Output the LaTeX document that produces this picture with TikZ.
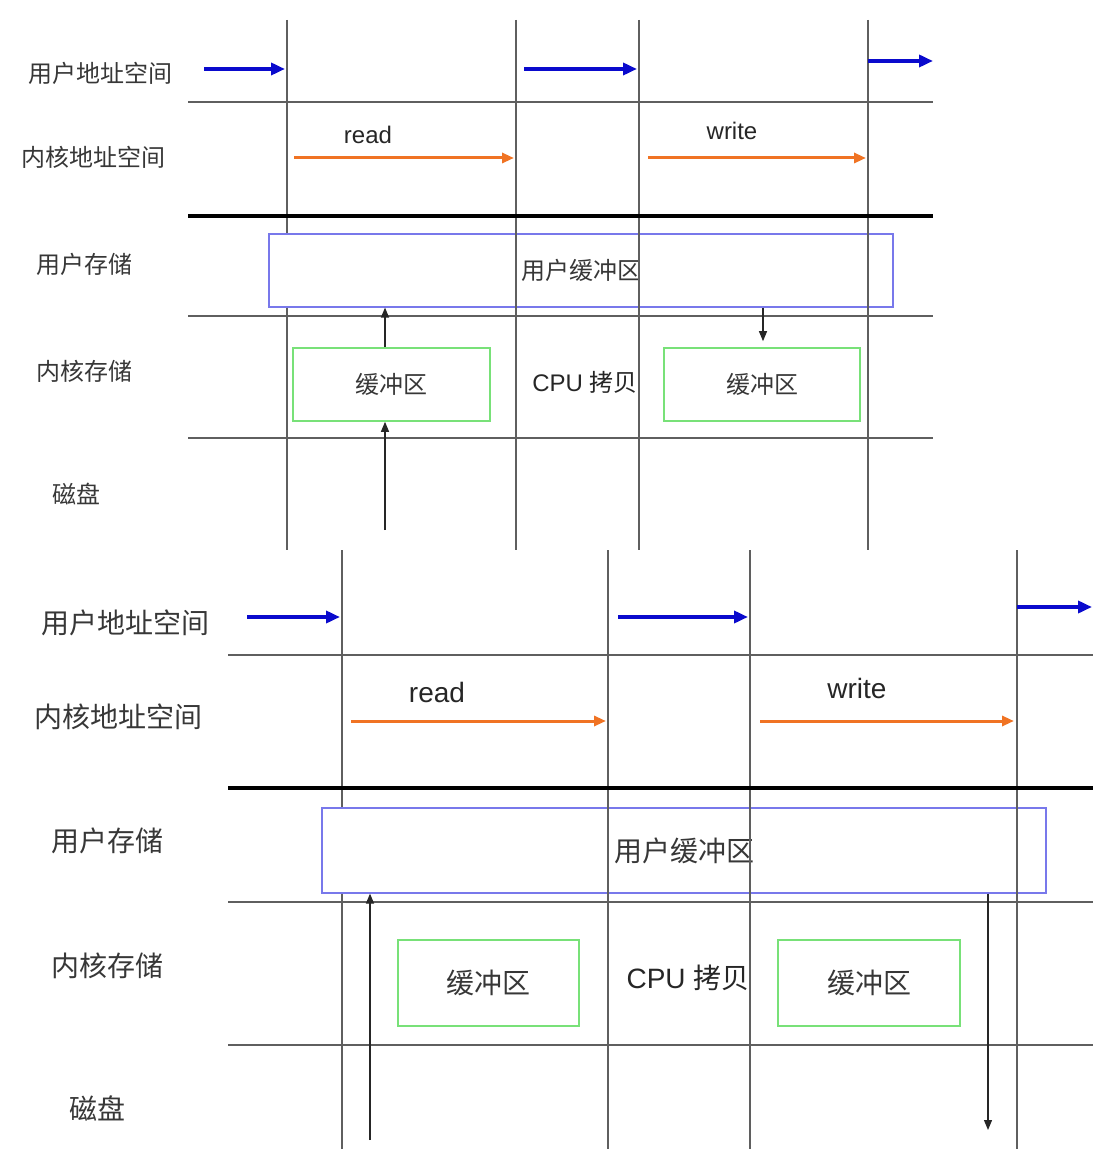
\documentclass[tikz,border=0pt]{standalone}
\usepackage{fontspec}
\setmainfont{Liberation Sans}
\newfontfamily\cjk{Noto Sans CJK SC}
\usepackage{xcolor}
\definecolor{callblue}{RGB}{10,10,205}
\definecolor{sysorange}{RGB}{240,115,35}
\definecolor{ubufblue}{RGB}{120,120,235}
\definecolor{kbufgreen}{RGB}{120,225,120}
\definecolor{gridgray}{RGB}{95,95,95}
\definecolor{labelgray}{RGB}{55,55,55}
\usetikzlibrary{arrows.meta, positioning}
\tikzstyle{grid}=[draw=gridgray, line width=0.75pt]
\tikzstyle{kernelline}=[draw=black, line width=2pt]
\tikzstyle{userbuf}=[rectangle, draw=ubufblue, line width=0.6pt, inner sep=0pt, text=labelgray]
\tikzstyle{kernbuf}=[rectangle, draw=kbufgreen, line width=0.8pt, inner sep=0pt, text=labelgray]
\tikzstyle{rowlabel}=[inner sep=0pt, text=labelgray]
\tikzstyle{calllabel}=[inner sep=0pt, text=black!85]
\tikzstyle{userarrow}=[-{Triangle[length=7pt,width=6pt]}, line width=2pt, color=callblue]
\tikzstyle{sysarrow}=[-{Triangle[length=6pt,width=5pt]}, line width=1.5pt, color=sysorange]
\tikzstyle{copyarrow}=[-{Triangle[length=5pt,width=4pt]}, line width=0.6pt, color=black!85]

\begin{document}
\begin{tikzpicture}[x=0.5pt, y=-0.5pt]
  \useasboundingbox (0,0) rectangle (1103,1149);

  % ---- upper panel: buffered read / write ----
  \begin{scope}[font=\fontsize{12}{14}\selectfont]
  \node[rowlabel] (uaddr1) at (100,73) {\cjk 用户地址空间};
  \node[rowlabel] (kaddr1) at (93,157) {\cjk 内核地址空间};
  \node[rowlabel] (ustore1) at (84,264) {\cjk 用户存储};
  \node[rowlabel] (kstore1) at (84,371) {\cjk 内核存储};
  \node[rowlabel] (disk1) at (76,494) {\cjk 磁盘};

  \node[userbuf, minimum width=312pt, minimum height=36.5pt] (ubuf1) at (581,270.5) {\cjk 用户缓冲区};
  \node[kernbuf, minimum width=98.5pt, minimum height=36.5pt] (kbufr1) at (391.5,384.5) {\raisebox{-2pt}{\cjk 缓冲区}};
  \node[kernbuf, minimum width=98pt, minimum height=36.5pt] (kbufw1) at (762,384.5) {\raisebox{-2pt}{\cjk 缓冲区}};
  \node[rowlabel, text=black!85] (cpu1) at (585,382) {CPU {\cjk 拷贝}};
  \node[calllabel] (read1) at (368,135) {read};
  \node[calllabel] (write1) at (732,131) {write};
  \end{scope}

  \draw[grid] (287,20) -- (ubuf1.north -| 287,0);
  \draw[grid] (ubuf1.south -| 287,0) -- (287,550);
  \draw[grid] (516,20) -- (516,550);
  \draw[grid] (639,20) -- (639,550);
  \draw[grid] (868,20) -- (868,550);
  \draw[grid] (188,102) -- (933,102);
  \draw[kernelline] (188,216) -- (933,216);
  \draw[grid] (188,316) -- (933,316);
  \draw[grid] (188,438) -- (933,438);

  \coordinate (ua1a) at (204,69);  \coordinate (ua1b) at (285,69);
  \coordinate (ua1c) at (524,69);  \coordinate (ua1d) at (637,69);
  \coordinate (ua1e) at (868,61);  \coordinate (ua1f) at (933,61);
  \coordinate (ka1a) at (294,158); \coordinate (ka1b) at (514,158);
  \coordinate (ka1c) at (648,158); \coordinate (ka1d) at (866,158);
  \draw[userarrow] (ua1a) -- (ua1b);
  \draw[userarrow] (ua1c) -- (ua1d);
  \draw[userarrow] (ua1e) -- (ua1f);
  \draw[sysarrow] (ka1a) -- (ka1b);
  \draw[sysarrow] (ka1c) -- (ka1d);

  \coordinate (dma1) at (385,530);
  \coordinate (wcp1) at (763,307);
  \draw[copyarrow] (dma1) -- (kbufr1.south -| dma1);
  \draw[copyarrow] (kbufr1.north -| dma1) -- (ubuf1.south -| dma1);
  \draw[copyarrow, shorten >=3pt] (ubuf1.south -| wcp1) -- (kbufw1.north -| wcp1);

  % ---- lower panel: direct read / write ----
  \begin{scope}[font=\fontsize{14}{16}\selectfont]
  \node[rowlabel] (uaddr2) at (125,623) {\cjk 用户地址空间};
  \node[rowlabel] (kaddr2) at (118,717) {\cjk 内核地址空间};
  \node[rowlabel] (ustore2) at (107,841) {\cjk 用户存储};
  \node[rowlabel] (kstore2) at (107,966) {\cjk 内核存储};
  \node[rowlabel] (disk2) at (97,1108) {\cjk 磁盘};

  \node[userbuf, minimum width=362pt, minimum height=42.5pt] (ubuf2) at (684,850.5) {\cjk 用户缓冲区};
  \node[kernbuf, minimum width=90.5pt, minimum height=43pt] (kbufr2) at (488.5,983) {\raisebox{-2pt}{\cjk 缓冲区}};
  \node[kernbuf, minimum width=91pt, minimum height=43pt] (kbufw2) at (869,983) {\raisebox{-2pt}{\cjk 缓冲区}};
  \node[rowlabel, text=black!85] (cpu2) at (688,978) {CPU {\cjk 拷贝}};
  \node[calllabel] (read2) at (437,692) {read};
  \node[calllabel] (write2) at (857,688) {write};
  \end{scope}

  \draw[grid] (342,550) -- (ubuf2.north -| 342,0);
  \draw[grid] (ubuf2.south -| 342,0) -- (342,1149);
  \draw[grid] (608,550) -- (608,1149);
  \draw[grid] (750,550) -- (750,1149);
  \draw[grid] (1017,550) -- (1017,1149);
  \draw[grid] (228,655) -- (1093,655);
  \draw[kernelline] (228,788) -- (1093,788);
  \draw[grid] (228,902) -- (1093,902);
  \draw[grid] (228,1045) -- (1093,1045);

  \coordinate (ua2a) at (247,617);  \coordinate (ua2b) at (340,617);
  \coordinate (ua2c) at (618,617);  \coordinate (ua2d) at (748,617);
  \coordinate (ua2e) at (1017,607); \coordinate (ua2f) at (1092,607);
  \coordinate (ka2a) at (351,721);  \coordinate (ka2b) at (606,721);
  \coordinate (ka2c) at (760,721);  \coordinate (ka2d) at (1014,721);
  \draw[userarrow] (ua2a) -- (ua2b);
  \draw[userarrow] (ua2c) -- (ua2d);
  \draw[userarrow] (ua2e) -- (ua2f);
  \draw[sysarrow] (ka2a) -- (ka2b);
  \draw[sysarrow] (ka2c) -- (ka2d);

  \coordinate (dio2r) at (370,1140);
  \coordinate (dio2w) at (988,1130);
  \draw[copyarrow] (dio2r) -- (ubuf2.south -| dio2r);
  \draw[copyarrow] (ubuf2.south -| dio2w) -- (dio2w);
\end{tikzpicture}
\end{document}
